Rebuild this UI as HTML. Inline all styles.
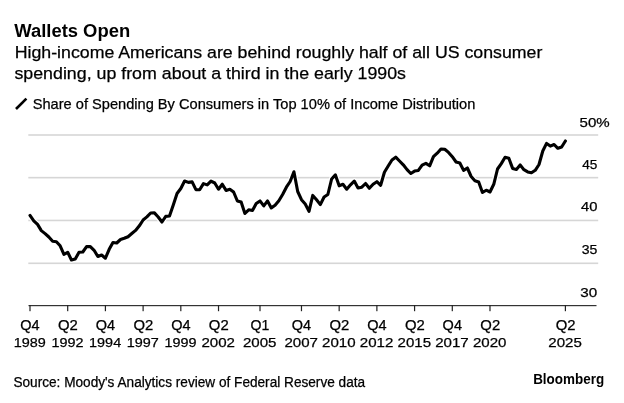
<!DOCTYPE html>
<html><head><meta charset="utf-8"><title>Wallets Open</title>
<style>
html,body{margin:0;padding:0;background:#fff;}
body{width:624px;height:403px;overflow:hidden;font-family:"Liberation Sans", sans-serif;}
svg text{font-family:"Liberation Sans", sans-serif;}
svg{will-change:transform;}
</style></head><body>
<svg width="624" height="403" viewBox="0 0 624 403" style="display:block">
<rect width="624" height="403" fill="#fff"/>
<text x="14.25" y="37.0" font-size="17.5" font-weight="bold" fill="#000" stroke="#000" stroke-width="0" textLength="115.89" lengthAdjust="spacingAndGlyphs">Wallets Open</text>
<text x="14.70" y="58.1" font-size="16.8" font-weight="normal" fill="#000" stroke="#000" stroke-width="0.25" textLength="527.72" lengthAdjust="spacingAndGlyphs">High-income Americans are behind roughly half of all US consumer</text>
<text x="14.45" y="78.9" font-size="16.8" font-weight="normal" fill="#000" stroke="#000" stroke-width="0.25" textLength="391.56" lengthAdjust="spacingAndGlyphs">spending, up from about a third in the early 1990s</text>
<text x="32.70" y="108.8" font-size="14.8" font-weight="normal" fill="#000" stroke="#000" stroke-width="0.25" textLength="442.66" lengthAdjust="spacingAndGlyphs">Share of Spending By Consumers in Top 10% of Income Distribution</text>
<text x="13.40" y="386.5" font-size="13.8" font-weight="normal" fill="#000" stroke="#000" stroke-width="0.25" textLength="351.69" lengthAdjust="spacingAndGlyphs">Source: Moody&#39;s Analytics review of Federal Reserve data</text>
<text x="533.15" y="384.3" font-size="14.2" font-weight="bold" fill="#000" stroke="#000" stroke-width="0" textLength="71.0" lengthAdjust="spacingAndGlyphs">Bloomberg</text>
<line x1="16.0" y1="109.0" x2="26.4" y2="98.6" stroke="#000" stroke-width="2.6"/>
<rect x="28.3" y="134.20" width="569.9" height="1.6" fill="#d6d6d6"/>
<rect x="28.3" y="176.85" width="569.9" height="1.6" fill="#d6d6d6"/>
<rect x="28.3" y="219.65" width="569.9" height="1.6" fill="#d6d6d6"/>
<rect x="28.3" y="262.50" width="569.9" height="1.6" fill="#d6d6d6"/>
<text x="579.60" y="126.8" font-size="12.9" font-weight="normal" fill="#000" stroke="#000" stroke-width="0.25" textLength="30.14" lengthAdjust="spacingAndGlyphs">50%</text>
<text x="582.15" y="169.0" font-size="12.9" font-weight="normal" fill="#000" stroke="#000" stroke-width="0.25" textLength="15.14" lengthAdjust="spacingAndGlyphs">45</text>
<text x="580.95" y="211.4" font-size="12.9" font-weight="normal" fill="#000" stroke="#000" stroke-width="0.25" textLength="16.39" lengthAdjust="spacingAndGlyphs">40</text>
<text x="581.65" y="254.2" font-size="12.9" font-weight="normal" fill="#000" stroke="#000" stroke-width="0.25" textLength="15.64" lengthAdjust="spacingAndGlyphs">35</text>
<text x="580.35" y="296.8" font-size="12.9" font-weight="normal" fill="#000" stroke="#000" stroke-width="0.25" textLength="16.89" lengthAdjust="spacingAndGlyphs">30</text>
<rect x="28.5" y="305" width="568" height="1.2" fill="#333"/>
<rect x="29.40" y="305" width="1.2" height="6.2" fill="#222"/>
<text x="20.35" y="330.0" font-size="14.2" font-weight="normal" fill="#000" stroke="#000" stroke-width="0.25" textLength="19.34" lengthAdjust="spacingAndGlyphs">Q4</text>
<text x="13.70" y="347.0" font-size="13.4" font-weight="normal" fill="#000" stroke="#000" stroke-width="0.25" textLength="32.03" lengthAdjust="spacingAndGlyphs">1989</text>
<rect x="67.10" y="305" width="1.2" height="6.2" fill="#222"/>
<text x="58.05" y="330.0" font-size="14.2" font-weight="normal" fill="#000" stroke="#000" stroke-width="0.25" textLength="19.84" lengthAdjust="spacingAndGlyphs">Q2</text>
<text x="51.40" y="347.0" font-size="13.4" font-weight="normal" fill="#000" stroke="#000" stroke-width="0.25" textLength="32.03" lengthAdjust="spacingAndGlyphs">1992</text>
<rect x="104.81" y="305" width="1.2" height="6.2" fill="#222"/>
<text x="95.76" y="330.0" font-size="14.2" font-weight="normal" fill="#000" stroke="#000" stroke-width="0.25" textLength="19.34" lengthAdjust="spacingAndGlyphs">Q4</text>
<text x="89.11" y="347.0" font-size="13.4" font-weight="normal" fill="#000" stroke="#000" stroke-width="0.25" textLength="32.03" lengthAdjust="spacingAndGlyphs">1994</text>
<rect x="142.51" y="305" width="1.2" height="6.2" fill="#222"/>
<text x="133.46" y="330.0" font-size="14.2" font-weight="normal" fill="#000" stroke="#000" stroke-width="0.25" textLength="19.84" lengthAdjust="spacingAndGlyphs">Q2</text>
<text x="126.81" y="347.0" font-size="13.4" font-weight="normal" fill="#000" stroke="#000" stroke-width="0.25" textLength="32.03" lengthAdjust="spacingAndGlyphs">1997</text>
<rect x="180.22" y="305" width="1.2" height="6.2" fill="#222"/>
<text x="171.17" y="330.0" font-size="14.2" font-weight="normal" fill="#000" stroke="#000" stroke-width="0.25" textLength="19.34" lengthAdjust="spacingAndGlyphs">Q4</text>
<text x="164.52" y="347.0" font-size="13.4" font-weight="normal" fill="#000" stroke="#000" stroke-width="0.25" textLength="32.03" lengthAdjust="spacingAndGlyphs">1999</text>
<rect x="217.92" y="305" width="1.2" height="6.2" fill="#222"/>
<text x="208.87" y="330.0" font-size="14.2" font-weight="normal" fill="#000" stroke="#000" stroke-width="0.25" textLength="19.84" lengthAdjust="spacingAndGlyphs">Q2</text>
<text x="201.47" y="347.0" font-size="13.4" font-weight="normal" fill="#000" stroke="#000" stroke-width="0.25" textLength="33.53" lengthAdjust="spacingAndGlyphs">2002</text>
<rect x="259.40" y="305" width="1.2" height="6.2" fill="#222"/>
<text x="250.60" y="330.0" font-size="14.2" font-weight="normal" fill="#000" stroke="#000" stroke-width="0.25" textLength="18.84" lengthAdjust="spacingAndGlyphs">Q1</text>
<text x="242.95" y="347.0" font-size="13.4" font-weight="normal" fill="#000" stroke="#000" stroke-width="0.25" textLength="33.53" lengthAdjust="spacingAndGlyphs">2005</text>
<rect x="300.87" y="305" width="1.2" height="6.2" fill="#222"/>
<text x="291.82" y="330.0" font-size="14.2" font-weight="normal" fill="#000" stroke="#000" stroke-width="0.25" textLength="19.34" lengthAdjust="spacingAndGlyphs">Q4</text>
<text x="284.42" y="347.0" font-size="13.4" font-weight="normal" fill="#000" stroke="#000" stroke-width="0.25" textLength="33.53" lengthAdjust="spacingAndGlyphs">2007</text>
<rect x="338.57" y="305" width="1.2" height="6.2" fill="#222"/>
<text x="329.52" y="330.0" font-size="14.2" font-weight="normal" fill="#000" stroke="#000" stroke-width="0.25" textLength="19.84" lengthAdjust="spacingAndGlyphs">Q2</text>
<text x="322.12" y="347.0" font-size="13.4" font-weight="normal" fill="#000" stroke="#000" stroke-width="0.25" textLength="33.53" lengthAdjust="spacingAndGlyphs">2010</text>
<rect x="376.28" y="305" width="1.2" height="6.2" fill="#222"/>
<text x="367.23" y="330.0" font-size="14.2" font-weight="normal" fill="#000" stroke="#000" stroke-width="0.25" textLength="19.34" lengthAdjust="spacingAndGlyphs">Q4</text>
<text x="359.83" y="347.0" font-size="13.4" font-weight="normal" fill="#000" stroke="#000" stroke-width="0.25" textLength="33.53" lengthAdjust="spacingAndGlyphs">2012</text>
<rect x="413.98" y="305" width="1.2" height="6.2" fill="#222"/>
<text x="404.93" y="330.0" font-size="14.2" font-weight="normal" fill="#000" stroke="#000" stroke-width="0.25" textLength="19.84" lengthAdjust="spacingAndGlyphs">Q2</text>
<text x="397.53" y="347.0" font-size="13.4" font-weight="normal" fill="#000" stroke="#000" stroke-width="0.25" textLength="33.53" lengthAdjust="spacingAndGlyphs">2015</text>
<rect x="451.69" y="305" width="1.2" height="6.2" fill="#222"/>
<text x="442.64" y="330.0" font-size="14.2" font-weight="normal" fill="#000" stroke="#000" stroke-width="0.25" textLength="19.34" lengthAdjust="spacingAndGlyphs">Q4</text>
<text x="435.24" y="347.0" font-size="13.4" font-weight="normal" fill="#000" stroke="#000" stroke-width="0.25" textLength="33.53" lengthAdjust="spacingAndGlyphs">2017</text>
<rect x="489.39" y="305" width="1.2" height="6.2" fill="#222"/>
<text x="480.34" y="330.0" font-size="14.2" font-weight="normal" fill="#000" stroke="#000" stroke-width="0.25" textLength="19.84" lengthAdjust="spacingAndGlyphs">Q2</text>
<text x="472.94" y="347.0" font-size="13.4" font-weight="normal" fill="#000" stroke="#000" stroke-width="0.25" textLength="33.53" lengthAdjust="spacingAndGlyphs">2020</text>
<rect x="564.80" y="305" width="1.2" height="6.2" fill="#222"/>
<text x="555.75" y="330.0" font-size="14.2" font-weight="normal" fill="#000" stroke="#000" stroke-width="0.25" textLength="19.84" lengthAdjust="spacingAndGlyphs">Q2</text>
<text x="548.35" y="347.0" font-size="13.4" font-weight="normal" fill="#000" stroke="#000" stroke-width="0.25" textLength="33.53" lengthAdjust="spacingAndGlyphs">2025</text>
<polyline points="30.00,215.40 33.77,220.80 37.54,224.40 41.31,230.60 45.08,233.60 48.85,237.00 52.62,241.20 56.39,241.70 60.16,245.80 63.93,254.30 67.70,252.30 71.47,260.00 75.25,259.00 79.02,252.30 82.79,252.00 86.56,246.60 90.33,246.60 94.10,250.30 97.87,256.50 101.64,255.00 105.41,258.20 109.18,249.30 112.95,242.50 116.72,243.00 120.49,239.50 124.26,238.30 128.03,236.70 131.80,233.50 135.57,230.40 139.34,225.80 143.11,220.00 146.88,216.90 150.65,213.00 154.42,212.90 158.19,217.00 161.96,222.00 165.74,216.40 169.51,216.00 173.28,205.00 177.05,193.50 180.82,188.50 184.59,181.00 188.36,182.40 192.13,181.90 195.90,189.60 199.67,189.80 203.44,183.60 207.21,184.90 210.98,181.10 214.75,183.00 218.52,189.20 222.29,184.20 226.06,190.40 229.83,189.20 233.60,192.00 237.37,201.00 241.14,202.00 244.91,213.50 248.68,209.80 252.45,210.50 256.23,203.60 260.00,200.90 263.77,205.90 267.54,200.90 271.31,207.90 275.08,205.30 278.85,200.80 282.62,194.50 286.39,187.20 290.16,181.50 293.93,171.80 297.70,191.50 301.47,199.70 305.24,204.00 309.01,211.40 312.78,195.40 316.55,199.70 320.32,204.60 324.09,197.00 327.86,194.50 331.63,179.00 335.40,174.90 339.17,185.80 342.95,184.30 346.72,189.20 350.49,184.80 354.26,181.10 358.03,188.00 361.80,187.20 365.57,183.50 369.34,188.30 373.11,184.20 376.88,181.70 380.65,185.30 384.42,172.30 388.19,166.00 391.96,160.00 395.73,157.20 399.50,161.00 403.27,164.80 407.04,169.60 410.81,173.50 414.58,171.10 418.35,170.40 422.12,165.20 425.89,163.40 429.66,165.80 433.44,156.70 437.21,153.20 440.98,149.00 444.75,149.20 448.52,152.40 452.29,156.70 456.06,162.00 459.83,163.00 463.60,170.40 467.37,168.00 471.14,176.50 474.91,180.80 478.68,182.00 482.45,192.50 486.22,190.20 489.99,192.00 493.76,184.30 497.53,169.00 501.30,163.60 505.07,157.30 508.84,158.30 512.61,168.40 516.38,169.40 520.15,164.90 523.93,169.70 527.70,171.90 531.47,172.80 535.24,170.30 539.01,164.50 542.78,151.00 546.55,143.40 550.32,146.10 554.09,144.50 557.86,148.30 561.63,147.00 565.40,141.00" fill="none" stroke="#fff" stroke-width="5.4" stroke-linejoin="round" stroke-linecap="round"/>
<polyline points="30.00,215.40 33.77,220.80 37.54,224.40 41.31,230.60 45.08,233.60 48.85,237.00 52.62,241.20 56.39,241.70 60.16,245.80 63.93,254.30 67.70,252.30 71.47,260.00 75.25,259.00 79.02,252.30 82.79,252.00 86.56,246.60 90.33,246.60 94.10,250.30 97.87,256.50 101.64,255.00 105.41,258.20 109.18,249.30 112.95,242.50 116.72,243.00 120.49,239.50 124.26,238.30 128.03,236.70 131.80,233.50 135.57,230.40 139.34,225.80 143.11,220.00 146.88,216.90 150.65,213.00 154.42,212.90 158.19,217.00 161.96,222.00 165.74,216.40 169.51,216.00 173.28,205.00 177.05,193.50 180.82,188.50 184.59,181.00 188.36,182.40 192.13,181.90 195.90,189.60 199.67,189.80 203.44,183.60 207.21,184.90 210.98,181.10 214.75,183.00 218.52,189.20 222.29,184.20 226.06,190.40 229.83,189.20 233.60,192.00 237.37,201.00 241.14,202.00 244.91,213.50 248.68,209.80 252.45,210.50 256.23,203.60 260.00,200.90 263.77,205.90 267.54,200.90 271.31,207.90 275.08,205.30 278.85,200.80 282.62,194.50 286.39,187.20 290.16,181.50 293.93,171.80 297.70,191.50 301.47,199.70 305.24,204.00 309.01,211.40 312.78,195.40 316.55,199.70 320.32,204.60 324.09,197.00 327.86,194.50 331.63,179.00 335.40,174.90 339.17,185.80 342.95,184.30 346.72,189.20 350.49,184.80 354.26,181.10 358.03,188.00 361.80,187.20 365.57,183.50 369.34,188.30 373.11,184.20 376.88,181.70 380.65,185.30 384.42,172.30 388.19,166.00 391.96,160.00 395.73,157.20 399.50,161.00 403.27,164.80 407.04,169.60 410.81,173.50 414.58,171.10 418.35,170.40 422.12,165.20 425.89,163.40 429.66,165.80 433.44,156.70 437.21,153.20 440.98,149.00 444.75,149.20 448.52,152.40 452.29,156.70 456.06,162.00 459.83,163.00 463.60,170.40 467.37,168.00 471.14,176.50 474.91,180.80 478.68,182.00 482.45,192.50 486.22,190.20 489.99,192.00 493.76,184.30 497.53,169.00 501.30,163.60 505.07,157.30 508.84,158.30 512.61,168.40 516.38,169.40 520.15,164.90 523.93,169.70 527.70,171.90 531.47,172.80 535.24,170.30 539.01,164.50 542.78,151.00 546.55,143.40 550.32,146.10 554.09,144.50 557.86,148.30 561.63,147.00 565.40,141.00" fill="none" stroke="#000" stroke-width="3.1" stroke-linejoin="round" stroke-linecap="round"/>
</svg>
</body></html>
